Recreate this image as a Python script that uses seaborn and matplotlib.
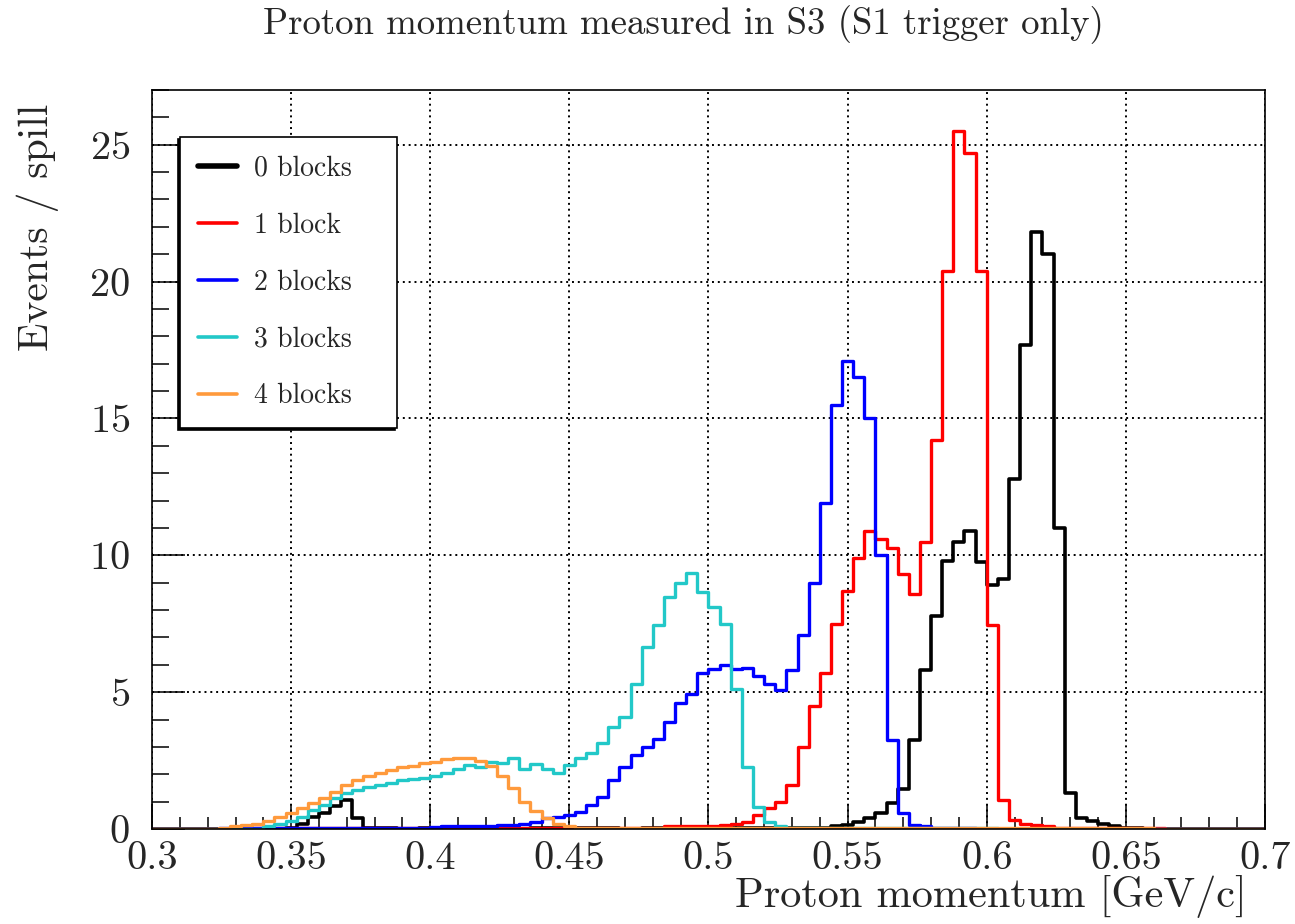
import numpy as np
import pandas as pd
import matplotlib
matplotlib.use("Agg")
import matplotlib.pyplot as plt
from matplotlib.lines import Line2D
from matplotlib.ticker import MultipleLocator
import seaborn as sns

# histogram binning (GeV/c)
p_min, p_max, n_bins = 0.3, 0.7, 100

labels = ["0 blocks", "1 block", "2 blocks", "3 blocks", "4 blocks"]
colors = ["#000000", "#ff0000", "#0000ff", "#22c8c8", "#ff9a3c"]

# events / spill per bin
blocks0 = [0, 0, 0, 0, 0, 0, 0, 0, 0, 0,
           0, 0, 0.05, 0.2, 0.45, 0.6, 0.85, 1.05, 0.4, 0.05,
           0.03, 0.03, 0, 0, 0.03, 0.03, 0.03, 0, 0, 0.03,
           0.03, 0.03, 0.03, 0, 0.03, 0.03, 0.03, 0.03, 0.03, 0.03,
           0.03, 0.03, 0, 0, 0.03, 0.03, 0.03, 0, 0.03, 0.03,
           0.03, 0.03, 0.05, 0.05, 0.05, 0.05, 0.05, 0.05, 0.05, 0.05,
           0.05, 0.1, 0.15, 0.25, 0.4, 0.6, 0.95, 1.45, 3.25, 5.8,
           7.8, 9.8, 10.5, 10.9, 9.75, 8.9, 9.15, 12.8, 17.7, 21.8,
           21.0, 11.0, 1.3, 0.4, 0.3, 0.2, 0.1, 0.05, 0.03, 0,
           0, 0, 0, 0, 0, 0, 0, 0, 0, 0]
blocks1 = [0, 0, 0, 0, 0, 0, 0, 0, 0.03, 0.03,
           0.03, 0.03, 0.03, 0.03, 0.03, 0.03, 0.03, 0.03, 0.03, 0.03,
           0.05, 0.05, 0.05, 0.05, 0.05, 0.05, 0.05, 0.05, 0.05, 0.05,
           0.05, 0.05, 0.05, 0.05, 0.05, 0.05, 0.05, 0.05, 0.05, 0.05,
           0.05, 0.05, 0.05, 0.05, 0.05, 0.05, 0.1, 0.1, 0.1, 0.1,
           0.1, 0.15, 0.2, 0.25, 0.5, 0.75, 1.0, 1.6, 3.0, 4.5,
           5.7, 7.5, 8.7, 9.9, 10.9, 10.6, 10.25, 9.3, 8.6, 10.5,
           14.2, 20.4, 25.5, 24.7, 20.4, 7.45, 1.05, 0.33, 0.2, 0.15,
           0.1, 0.05, 0.05, 0.05, 0.05, 0.05, 0.05, 0.05, 0.03, 0.03,
           0.03, 0, 0, 0, 0, 0, 0, 0, 0, 0]
blocks2 = [0, 0, 0, 0, 0, 0, 0.05, 0.05, 0.05, 0.05,
           0.05, 0.05, 0.05, 0.05, 0.05, 0.05, 0.05, 0.05, 0.05, 0.05,
           0.05, 0.05, 0.05, 0.05, 0.05, 0.08, 0.1, 0.12, 0.12, 0.12,
           0.12, 0.15, 0.15, 0.2, 0.27, 0.4, 0.45, 0.5, 0.63, 0.88,
           1.18, 1.8, 2.27, 2.7, 3.0, 3.3, 3.9, 4.6, 4.95, 5.7,
           5.85, 6.0, 5.85, 5.9, 5.6, 5.3, 5.07, 5.8, 7.1, 9.0,
           11.9, 15.5, 17.1, 16.5, 15.0, 10.0, 3.25, 0.58, 0.15, 0.1,
           0.05, 0.05, 0.05, 0.03, 0, 0, 0, 0, 0, 0,
           0, 0, 0, 0, 0, 0, 0, 0, 0, 0,
           0, 0, 0, 0, 0, 0, 0, 0, 0, 0]
blocks3 = [0, 0, 0, 0, 0, 0, 0, 0, 0, 0,
           0.1, 0.2, 0.3, 0.45, 0.7, 0.88, 1.13, 1.3, 1.42, 1.53,
           1.6, 1.67, 1.8, 1.82, 1.87, 1.93, 2.05, 2.2, 2.33, 2.27,
           2.45, 2.4, 2.58, 2.2, 2.37, 2.2, 2.03, 2.33, 2.58, 2.76,
           3.13, 3.73, 4.1, 5.3, 6.65, 7.45, 8.48, 8.97, 9.35, 8.66,
           8.1, 7.5, 5.13, 2.27, 0.81, 0.27, 0.1, 0.05, 0.05, 0.05,
           0.05, 0.05, 0.05, 0.05, 0.05, 0.05, 0.05, 0.05, 0.05, 0.05,
           0.05, 0.05, 0.05, 0.05, 0.05, 0.03, 0, 0, 0, 0,
           0, 0, 0, 0, 0, 0, 0, 0, 0, 0,
           0, 0, 0, 0, 0, 0, 0, 0, 0, 0]
blocks4 = [0, 0, 0, 0, 0, 0, 0.05, 0.1, 0.15, 0.2,
           0.3, 0.45, 0.6, 0.75, 0.95, 1.15, 1.35, 1.6, 1.8, 1.95,
           2.05, 2.15, 2.25, 2.3, 2.4, 2.45, 2.55, 2.6, 2.6, 2.5,
           2.3, 1.95, 1.5, 1.0, 0.65, 0.4, 0.2, 0.1, 0.05, 0.03,
           0.03, 0.03, 0.03, 0.03, 0.03, 0.03, 0.03, 0.03, 0.03, 0.03,
           0.03, 0.03, 0.03, 0.03, 0.03, 0.03, 0.03, 0.03, 0.03, 0.03,
           0.03, 0.03, 0.03, 0.03, 0.03, 0.03, 0.03, 0.03, 0.03, 0.03,
           0.03, 0.03, 0.03, 0.03, 0.03, 0.03, 0.03, 0.03, 0.03, 0.03,
           0.03, 0.03, 0.03, 0.03, 0.03, 0.03, 0.03, 0.03, 0.03, 0.03,
           0, 0, 0, 0, 0, 0, 0, 0, 0, 0]

edges = np.linspace(p_min, p_max, n_bins + 1)
centers = 0.5 * (edges[:-1] + edges[1:])
series = [blocks0, blocks1, blocks2, blocks3, blocks4]
df = pd.concat([pd.DataFrame({"p": centers, "rate": vals, "blocks": lab})
                for lab, vals in zip(labels, series)], ignore_index=True)

sns.set_style("white")
plt.rcParams["font.family"] = ["cmr10", "DejaVu Serif"]
plt.rcParams["axes.formatter.use_mathtext"] = True
plt.rcParams["mathtext.fontset"] = "cm"

fig = plt.figure(figsize=(12.95, 9.24), dpi=100)
ax = fig.add_axes([0.1174, 0.1028, 0.8594, 0.7998])

widths = [2.6, 2.4, 2.4, 2.4, 2.4]
for lab, col, lw in zip(labels, colors, widths):
    sns.histplot(data=df[df["blocks"] == lab], x="p", weights="rate",
                 bins=n_bins, binrange=(p_min, p_max),
                 element="step", fill=False, color=col, linewidth=lw, ax=ax)

ax.set_xlim(p_min, p_max)
ax.set_ylim(0, 27)
ax.xaxis.set_major_locator(MultipleLocator(0.05))
ax.xaxis.set_minor_locator(MultipleLocator(0.01))
ax.yaxis.set_major_locator(MultipleLocator(5))
ax.yaxis.set_minor_locator(MultipleLocator(1))
ax.xaxis.set_major_formatter(matplotlib.ticker.FuncFormatter(lambda v, _: f"{v:g}"))
ax.tick_params(which="both", bottom=True, left=True, top=False, right=False, color="black")
ax.tick_params(axis="x", which="major", direction="in", length=18, width=1.1, labelsize=29, pad=9)
ax.tick_params(axis="x", which="minor", direction="in", length=9, width=1.1)
ax.tick_params(axis="y", which="major", direction="in", length=24, width=1.1, labelsize=29, pad=16)
ax.tick_params(axis="y", which="minor", direction="in", length=12, width=1.1)
ax.grid(True, which="major", color="black", linestyle=(0, (1, 2)), linewidth=1.4)
for s in ax.spines.values():
    s.set_linewidth(1.2)
    s.set_color("black")

ax.set_xlabel("Proton momentum [GeV/c]", fontsize=30.5, ha="right")
ax.xaxis.set_label_coords(0.984, -0.062)
ax.set_ylabel("Events / spill", fontsize=30, ha="right")
ax.yaxis.set_label_coords(-0.084, 0.982)
fig.text(0.528, 0.973, "Proton momentum measured in S3 (S1 trigger only)",
         ha="center", va="center", fontsize=26.5)

handles = [Line2D([], [], color=c, lw=lw) for c, lw in zip(colors, [4.0, 2.6, 2.6, 2.6, 2.6])]
leg = ax.legend(handles, labels, loc="upper left", bbox_to_anchor=(0.025, 0.547, 0.195, 0.389),
                mode="expand", fontsize=20, frameon=True, fancybox=False, framealpha=1,
                edgecolor="black", handlelength=1.4, handletextpad=0.6, labelspacing=1.1,
                borderpad=0.66, borderaxespad=0,
                shadow={"ox": -1.3, "oy": -1.3, "color": "black", "alpha": 1})
leg.get_frame().set_linewidth(1.2)

fig.savefig("out.png", dpi=100)
